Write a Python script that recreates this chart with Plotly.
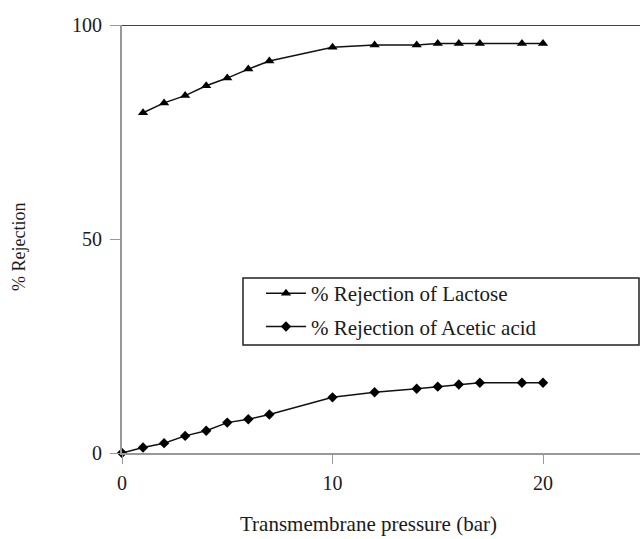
import plotly.graph_objects as go

# Transmembrane pressure (bar)
pressure_lactose = [1, 2, 3, 4, 5, 6, 7, 10, 12, 14, 15, 16, 17, 19, 20]
rejection_lactose = [79.5, 81.8, 83.5, 85.8, 87.6, 89.7, 91.6, 94.8, 95.3, 95.3, 95.7, 95.7, 95.7, 95.7, 95.7]

pressure_acetic = [0, 1, 2, 3, 4, 5, 6, 7, 10, 12, 14, 15, 16, 17, 19, 20]
rejection_acetic = [0.0, 1.3, 2.3, 4.0, 5.2, 7.1, 7.9, 9.0, 13.0, 14.2, 15.0, 15.5, 16.0, 16.4, 16.4, 16.4]

x_ticks = [0, 10, 20]
y_ticks = [0, 50, 100]

FONT = "Liberation Serif, Times New Roman, serif"
INK = "#1a1a1a"

fig = go.Figure()
fig.add_trace(go.Scatter(
    x=pressure_lactose, y=rejection_lactose, mode="lines+markers",
    name="% Rejection of Lactose", legendgroup="lac",
    line=dict(color="#111111", width=1.5),
    marker=dict(symbol="triangle-up", size=9, color="#000000"),
    cliponaxis=False,
))
fig.add_trace(go.Scatter(
    x=pressure_acetic, y=rejection_acetic, mode="lines+markers",
    name="% Rejection of Acetic acid", legendgroup="ace",
    line=dict(color="#111111", width=1.5),
    marker=dict(symbol="diamond", size=8, color="#000000"),
    cliponaxis=False,
))

# top border line at 100 %
fig.add_shape(type="line", xref="paper", yref="y", x0=0, x1=1, y0=100, y1=100,
              line=dict(color="#444444", width=2))
# legend frame
fig.add_shape(type="rect", xref="paper", yref="paper",
              x0=(243 - 122) / 518, x1=(639 - 122) / 518,
              y0=(453 - 345) / 428, y1=(453 - 278) / 428,
              line=dict(color="#222222", width=1.5), fillcolor="rgba(0,0,0,0)")

fig.update_layout(
    width=640, height=539,
    margin=dict(l=122, r=0, t=25, b=86),
    paper_bgcolor="white", plot_bgcolor="white",
    font=dict(family=FONT, size=20, color=INK),
    showlegend=True,
    legend=dict(x=(261 - 122) / 518, y=(453 - 273) / 428, xanchor="left", yanchor="top",
                bgcolor="rgba(0,0,0,0)", borderwidth=0, tracegroupgap=3,
                font=dict(family=FONT, size=21, color=INK),
                itemwidth=40),
    xaxis=dict(range=[0, 518 / 21.05], tickvals=x_ticks, ticks="outside", ticklen=9,
               tickcolor="#999999", showline=True, linecolor="#999999", linewidth=2,
               showgrid=False, zeroline=False, ticklabelstandoff=2,
               tickfont=dict(family=FONT, size=20, color=INK)),
    yaxis=dict(range=[0, 100], tickvals=y_ticks, ticks="outside", ticklen=10,
               tickcolor="#999999", showline=True, linecolor="#999999", linewidth=2,
               showgrid=False, zeroline=False, ticklabelstandoff=4,
               tickfont=dict(family=FONT, size=20, color=INK)),
    annotations=[
        dict(text="% Rejection", xref="paper", yref="paper",
             x=(19 - 122) / 518, y=(453 - 247) / 428, showarrow=False, textangle=-90,
             xanchor="center", yanchor="middle",
             font=dict(family=FONT, size=18, color=INK)),
        dict(text="Transmembrane pressure (bar)", xref="paper", yref="paper",
             x=(368 - 122) / 518, y=(453 - 524) / 428, showarrow=False,
             xanchor="center", yanchor="middle",
             font=dict(family=FONT, size=21, color=INK)),
    ],
)

fig.write_html("out.html")
